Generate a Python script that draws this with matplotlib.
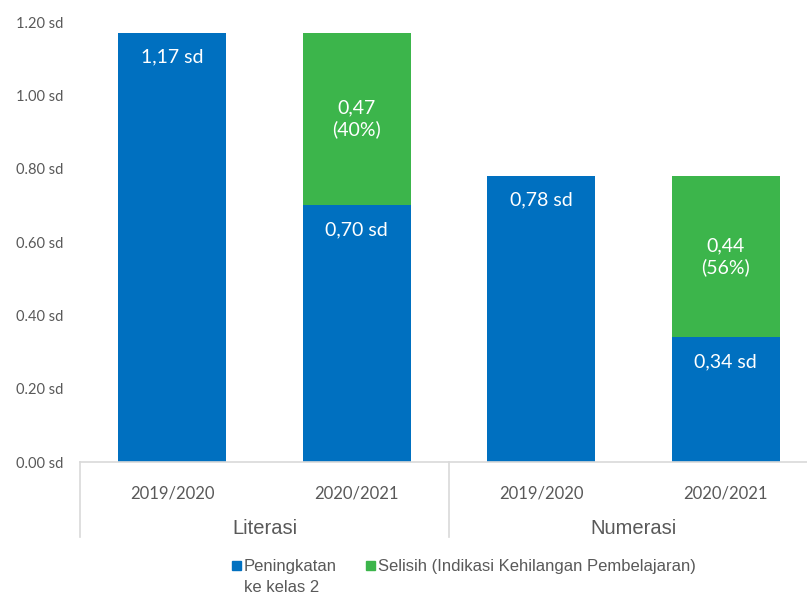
import matplotlib
matplotlib.use("Agg")
import matplotlib.pyplot as plt
from matplotlib.patches import Rectangle
import matplotlib.transforms as mtransforms

# ---- data ----
years = ["2019/2020", "2020/2021", "2019/2020", "2020/2021"]
groups = ["Literasi", "Numerasi"]
peningkatan = [1.17, 0.70, 0.78, 0.34]
selisih = [0.00, 0.47, 0.00, 0.44]
selisih_pct = [None, "40%", None, "56%"]
yticks = [0.0, 0.2, 0.4, 0.6, 0.8, 1.0, 1.2]
legend_labels = ["Peningkatan\nke kelas 2", "Selisih (Indikasi Kehilangan Pembelajaran)"]

BLUE = "#0070C0"
GREEN = "#3CB54B"
GRAY = "#595959"
LINE = "#D9D9D9"
NUM_FONT = "Lato"
TXT_FONT = "Liberation Sans"

W, H = 807, 595
fig = plt.figure(figsize=(W / 100, H / 100), dpi=100)
ax_left, ax_right = 80 / W, 818 / W
ax_bot, ax_top = 1 - 462 / H, 1 - 22 / H
ax = fig.add_axes([ax_left, ax_bot, ax_right - ax_left, ax_top - ax_bot])

x = list(range(len(years)))
width = 0.588
ax.bar(x, peningkatan, width=width, color=BLUE, zorder=2)
ax.bar(x, selisih, width=width, bottom=peningkatan, color=GREEN, zorder=2)

ax.set_xlim(-0.5, 3.5)
ax.set_ylim(0, 1.2)
ax.set_yticks(yticks)
ax.set_yticklabels([f"{v:.2f} sd" for v in yticks], fontfamily=NUM_FONT,
                   fontsize=10.5, color=GRAY)
ax.tick_params(axis="y", length=0, pad=12)
ax.set_xticks(x)
ax.set_xticklabels(years, fontfamily=NUM_FONT, fontsize=12, color=GRAY)
ax.tick_params(axis="x", length=0, pad=17)

for s in ["left", "right", "top"]:
    ax.spines[s].set_visible(False)
ax.spines["bottom"].set_color(LINE)
ax.spines["bottom"].set_linewidth(1.2)

# value labels
for i in x:
    base = peningkatan[i]
    ax.annotate(f"{base:.2f}".replace(".", ",") + " sd", xy=(i, base),
                xytext=(0, -17.5), textcoords="offset points",
                ha="center", va="center", color="white",
                fontfamily=NUM_FONT, fontsize=14)
    if selisih[i] > 0:
        ax.text(i, base + selisih[i] / 2,
                f"{selisih[i]:.2f}".replace(".", ",") + f"\n({selisih_pct[i]})",
                ha="center", va="center", color="white",
                fontfamily=NUM_FONT, fontsize=14, linespacing=1.25)

# group separators and labels
trans = mtransforms.blended_transform_factory(ax.transData, ax.transAxes)
sep_depth = -(537 - 462) / (462 - 22)
for xs in [-0.5, 1.5, 3.5]:
    ax.plot([xs, xs], [0, sep_depth], color=LINE, lw=1.2, transform=trans,
            clip_on=False)
label_y = -(528 - 462) / (462 - 22)
for gi, g in enumerate(groups):
    ax.text(gi * 2 + 0.5, label_y, g, transform=trans, ha="center", va="center",
            fontfamily=TXT_FONT, fontsize=14.5, color=GRAY)

# legend (manual)
sq = 9
def fx(px):
    return px / W
def fy(py):
    return 1 - py / H
fig.patches.append(Rectangle((fx(232), fy(565 + sq / 2)), sq / W, sq / H,
                             transform=fig.transFigure, color=BLUE))
fig.text(fx(244), fy(566), "Peningkatan", ha="left", va="center",
         fontfamily=TXT_FONT, fontsize=12, color=GRAY)
fig.text(fx(244), fy(588), "ke kelas 2", ha="left", va="center",
         fontfamily=TXT_FONT, fontsize=12, color=GRAY)
fig.patches.append(Rectangle((fx(366), fy(565 + sq / 2)), sq / W, sq / H,
                             transform=fig.transFigure, color=GREEN))
fig.text(fx(378), fy(566), legend_labels[1], ha="left", va="center",
         fontfamily=TXT_FONT, fontsize=12, color=GRAY)

fig.savefig("out.png", dpi=100)
